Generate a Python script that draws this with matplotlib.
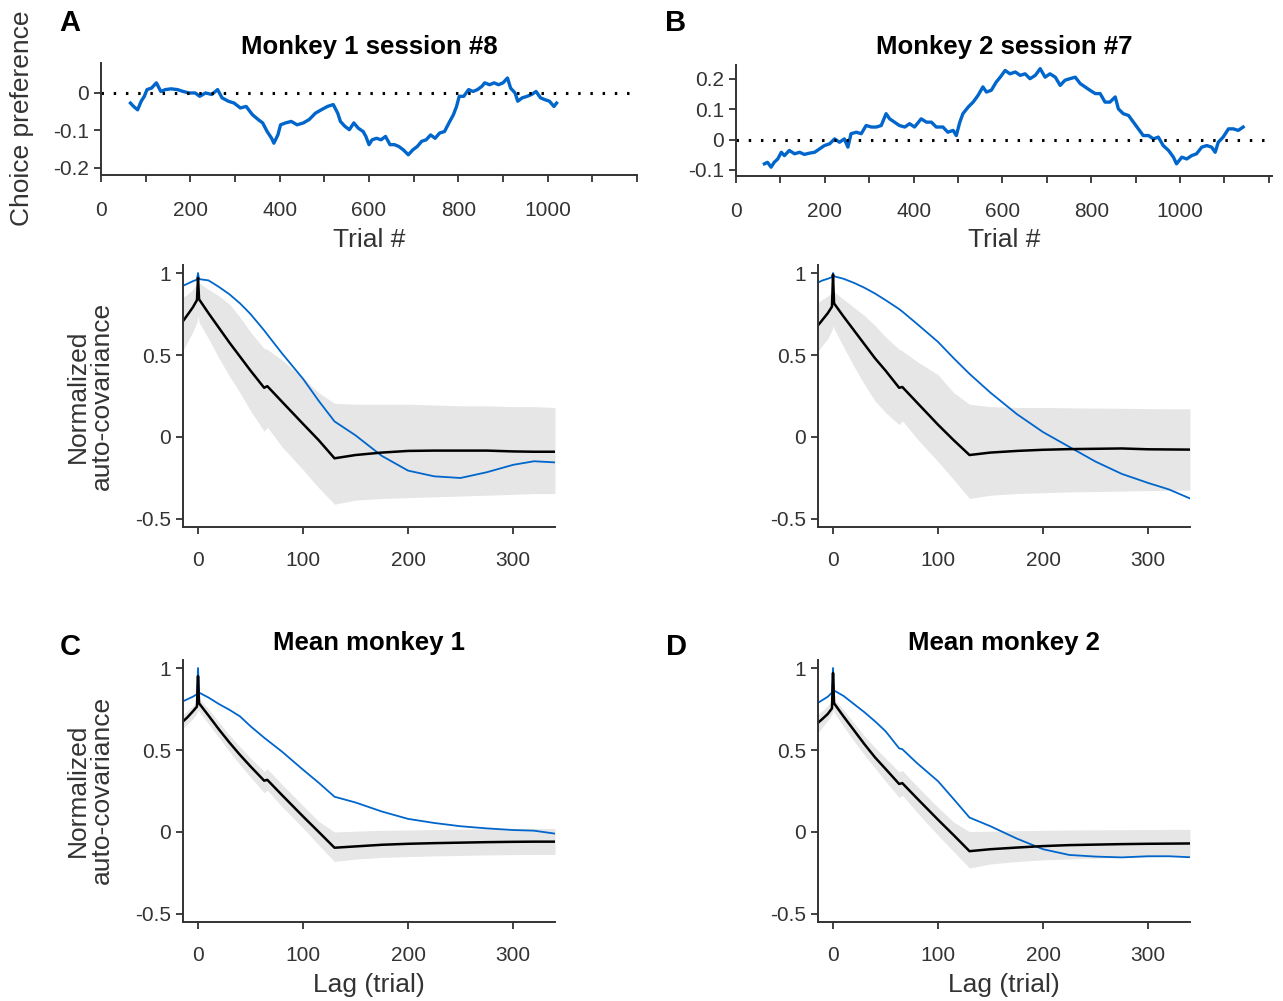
import matplotlib
matplotlib.use('Agg')
import matplotlib.pyplot as plt

plt.rcParams['font.family'] = ['Liberation Sans', 'DejaVu Sans']
plt.rcParams['axes.unicode_minus'] = False

BLUE = '#0066cc'
GREY_BAND = '#e6e6e6'
DARK = '#333333'

# --- top row: choice preference along the session ---
trials_m1 = [66, 73, 82, 90, 97, 103, 113, 124, 134, 144, 157, 171, 184, 197, 211, 221, 234, 248, 261,
             271, 285, 298, 312, 325, 339, 352, 362, 372, 382, 387, 396, 402, 413, 426, 439, 453, 466,
             480, 493, 507, 520, 530, 536, 546, 556, 566, 576, 587, 593, 600, 607, 617, 627, 637, 647,
             657, 667, 677, 688, 698, 708, 718, 728, 738, 748, 758, 769, 779, 789, 796, 802, 812, 823,
             833, 843, 853, 859, 870, 880, 890, 900, 910, 917, 927, 933, 943, 954, 964, 974, 984, 994,
             1004, 1014, 1020]
pref_m1 = [-0.027, -0.036, -0.045, -0.022, -0.009, 0.009, 0.013, 0.027, 0.004, 0.009, 0.011, 0.009,
           0.004, 0.0, 0.0, -0.009, 0.0, -0.004, 0.009, -0.013, -0.022, -0.027, -0.04, -0.036, -0.058,
           -0.071, -0.08, -0.103, -0.121, -0.134, -0.112, -0.085, -0.08, -0.076, -0.085, -0.08, -0.071,
           -0.054, -0.045, -0.036, -0.031, -0.054, -0.076, -0.089, -0.098, -0.08, -0.094, -0.103, -0.116,
           -0.138, -0.125, -0.121, -0.125, -0.116, -0.138, -0.138, -0.143, -0.152, -0.165, -0.152, -0.143,
           -0.129, -0.125, -0.112, -0.121, -0.107, -0.103, -0.08, -0.058, -0.036, -0.009, -0.009, 0.009,
           0.004, 0.009, 0.018, 0.027, 0.022, 0.027, 0.022, 0.027, 0.04, 0.013, 0.0, -0.022, -0.013,
           -0.009, -0.004, 0.004, -0.013, -0.018, -0.022, -0.036, -0.027]

trials_m2 = [64, 71, 79, 86, 94, 102, 109, 120, 132, 143, 154, 165, 177, 188, 199, 211, 222, 233, 244,
             252, 259, 271, 282, 293, 305, 316, 327, 338, 346, 357, 368, 380, 391, 402, 417, 429, 440,
             451, 466, 477, 489, 496, 504, 511, 523, 534, 545, 556, 564, 575, 586, 595, 606, 617, 629,
             640, 651, 662, 674, 685, 696, 707, 719, 730, 741, 752, 764, 775, 786, 797, 809, 820, 831,
             842, 854, 861, 872, 884, 895, 906, 917, 929, 940, 951, 962, 974, 985, 992, 1004, 1015, 1026,
             1037, 1049, 1060, 1071, 1079, 1086, 1097, 1109, 1120, 1131, 1142]
pref_m2 = [-0.08, -0.075, -0.091, -0.075, -0.064, -0.042, -0.053, -0.036, -0.047, -0.042, -0.049, -0.045,
           -0.042, -0.031, -0.02, -0.014, 0.002, -0.009, 0.002, -0.025, 0.019, 0.024, 0.019, 0.046, 0.041,
           0.041, 0.046, 0.085, 0.068, 0.057, 0.046, 0.041, 0.052, 0.041, 0.068, 0.057, 0.057, 0.041,
           0.041, 0.024, 0.03, 0.013, 0.057, 0.085, 0.107, 0.123, 0.145, 0.173, 0.156, 0.162, 0.189, 0.205,
           0.227, 0.216, 0.222, 0.211, 0.216, 0.2, 0.211, 0.233, 0.205, 0.216, 0.205, 0.178, 0.195, 0.2,
           0.205, 0.184, 0.173, 0.162, 0.151, 0.151, 0.123, 0.123, 0.14, 0.101, 0.085, 0.079, 0.057, 0.035,
           0.013, 0.013, 0.002, 0.008, -0.02, -0.036, -0.058, -0.08, -0.058, -0.064, -0.053, -0.047, -0.025,
           -0.02, -0.025, -0.042, -0.009, 0.008, 0.035, 0.035, 0.03, 0.041]

# --- auto-covariance panels (lags in trials) ---
lags = [-15, -10, -5, -1, 0, 1, 10, 20, 30, 40, 50, 63, 66, 80, 100, 115, 130, 150, 175, 200, 225,
        250, 275, 300, 320, 340]

# single-session panels
sess1_black = [0.70, 0.745, 0.79, 0.835, 0.97, 0.84, 0.755, 0.665, 0.575, 0.49, 0.405, 0.30, 0.31, 0.215,
               0.08, -0.02, -0.13, -0.11, -0.095, -0.085, -0.083, -0.083, -0.083, -0.088, -0.09, -0.09]
sess1_upper = [0.85, 0.87, 0.90, 0.94, 0.96, 0.94, 0.90, 0.86, 0.81, 0.73, 0.64, 0.54, 0.535, 0.47,
               0.36, 0.27, 0.205, 0.20, 0.20, 0.20, 0.195, 0.19, 0.19, 0.185, 0.185, 0.18]
sess1_lower = [0.52, 0.58, 0.64, 0.70, 0.74, 0.70, 0.60, 0.48, 0.37, 0.27, 0.16, 0.035, 0.06, -0.06,
               -0.20, -0.31, -0.41, -0.385, -0.375, -0.37, -0.365, -0.36, -0.355, -0.35, -0.345, -0.345]
sess1_blue = [0.92, 0.935, 0.95, 0.96, 1.0, 0.963, 0.955, 0.915, 0.87, 0.815, 0.75, 0.65, 0.625, 0.51,
              0.355, 0.22, 0.095, 0.01, -0.115, -0.205, -0.24, -0.25, -0.215, -0.17, -0.148, -0.155]

sess2_black = [0.675, 0.715, 0.755, 0.795, 0.99, 0.815, 0.735, 0.65, 0.565, 0.48, 0.405, 0.30, 0.305,
               0.21, 0.075, -0.02, -0.11, -0.095, -0.085, -0.078, -0.074, -0.072, -0.07, -0.075, -0.076,
               -0.077]
sess2_upper = [0.815, 0.84, 0.86, 0.88, 0.89, 0.885, 0.84, 0.79, 0.74, 0.68, 0.61, 0.535, 0.525, 0.46,
               0.38, 0.27, 0.20, 0.185, 0.18, 0.18, 0.178, 0.176, 0.175, 0.173, 0.172, 0.172]
sess2_lower = [0.517, 0.56, 0.60, 0.65, 0.68, 0.66, 0.55, 0.43, 0.32, 0.22, 0.15, 0.075, 0.10, -0.01,
               -0.15, -0.26, -0.375, -0.355, -0.345, -0.34, -0.335, -0.333, -0.33, -0.327, -0.325, -0.324]
sess2_blue = [0.94, 0.955, 0.965, 0.975, 1.0, 0.98, 0.965, 0.94, 0.91, 0.875, 0.835, 0.78, 0.765, 0.69,
              0.58, 0.48, 0.385, 0.27, 0.14, 0.03, -0.06, -0.15, -0.225, -0.28, -0.32, -0.375]

# mean panels (C and D)
mean1_black = [0.67, 0.70, 0.735, 0.765, 0.95, 0.785, 0.71, 0.625, 0.545, 0.47, 0.40, 0.313, 0.318,
               0.225, 0.095, 0.0, -0.096, -0.088, -0.078, -0.072, -0.068, -0.065, -0.062, -0.06, -0.059,
               -0.059]
mean1_upper = [0.71, 0.74, 0.77, 0.80, 0.82, 0.815, 0.75, 0.67, 0.59, 0.52, 0.45, 0.37, 0.385, 0.29,
               0.16, 0.065, 0.0, 0.005, 0.01, 0.012, 0.015, 0.017, 0.02, 0.021, 0.022, 0.022]
mean1_lower = [0.63, 0.66, 0.69, 0.725, 0.744, 0.735, 0.66, 0.575, 0.49, 0.41, 0.335, 0.24, 0.255, 0.155,
               0.025, -0.08, -0.18, -0.165, -0.155, -0.15, -0.146, -0.143, -0.14, -0.138, -0.137, -0.137]
mean1_blue = [0.795, 0.81, 0.825, 0.84, 1.0, 0.85, 0.82, 0.78, 0.745, 0.705, 0.645, 0.575, 0.56, 0.49,
              0.38, 0.30, 0.215, 0.18, 0.125, 0.08, 0.055, 0.035, 0.022, 0.012, 0.008, -0.01]

mean2_black = [0.662, 0.69, 0.72, 0.754, 0.97, 0.785, 0.705, 0.62, 0.535, 0.455, 0.385, 0.293, 0.298,
               0.205, 0.075, -0.02, -0.117, -0.105, -0.095, -0.086, -0.08, -0.077, -0.074, -0.072, -0.071,
               -0.07]
mean2_upper = [0.713, 0.74, 0.77, 0.80, 0.815, 0.81, 0.745, 0.665, 0.585, 0.515, 0.45, 0.365, 0.375, 0.28,
               0.15, 0.06, 0.002, 0.005, 0.008, 0.01, 0.012, 0.013, 0.014, 0.015, 0.016, 0.016]
mean2_lower = [0.60, 0.64, 0.68, 0.72, 0.744, 0.73, 0.645, 0.555, 0.47, 0.39, 0.31, 0.21, 0.225, 0.12,
               -0.02, -0.12, -0.22, -0.195, -0.18, -0.17, -0.165, -0.16, -0.155, -0.152, -0.15, -0.148]
mean2_blue = [0.785, 0.805, 0.825, 0.85, 1.0, 0.863, 0.83, 0.78, 0.73, 0.675, 0.615, 0.51, 0.505, 0.42,
              0.31, 0.20, 0.088, 0.035, -0.04, -0.105, -0.14, -0.15, -0.155, -0.148, -0.148, -0.154]


fig = plt.figure(figsize=(12.83, 10.01), dpi=100)
W, H = 1283.0, 1001.0


def px_axes(left, top, right, bottom):
    return fig.add_axes([left / W, 1 - bottom / H, (right - left) / W, (bottom - top) / H])


def style(ax):
    for s in ['top', 'right']:
        ax.spines[s].set_visible(False)
    for s in ['left', 'bottom']:
        ax.spines[s].set_color(DARK)
        ax.spines[s].set_linewidth(1.4)
    ax.tick_params(direction='out', length=5, width=1.3, color=DARK, labelcolor=DARK, labelsize=15)


def fmt(vals):
    return ['%g' % v for v in vals]


# top panels
axA = px_axes(101, 63, 637, 175)
axB = px_axes(736, 65, 1272, 176)

axA.plot(trials_m1, pref_m1, color=BLUE, lw=2.4)
axA.axhline(0, color='black', lw=2.2, ls=(0, (0.8, 3.2)))
axA.set_xlim(0, 1083)
axA.set_ylim(-0.219, 0.08)
axA.set_yticks([-0.2, -0.1, 0])
axA.set_yticklabels(fmt([-0.2, -0.1, 0]))

axB.plot(trials_m2, pref_m2, color=BLUE, lw=2.4)
axB.axhline(0, color='black', lw=2.2, ls=(0, (0.8, 3.2)))
axB.set_xlim(0, 1207)
axB.set_ylim(-0.12, 0.245)
axB.set_yticks([-0.1, 0, 0.1, 0.2])
axB.set_yticklabels(fmt([-0.1, 0, 0.1, 0.2]))

for ax in (axA, axB):
    style(ax)
    ax.set_xticks(range(0, 1201, 100))
    ax.set_xticklabels([str(t) if (t % 200 == 0 and t <= 1000) else '' for t in range(0, 1201, 100)])
    ax.tick_params(axis='x', pad=14)


# auto-covariance panels
def acov(ax, black, upper, lower, blue):
    ax.fill_between(lags, lower, upper, color=GREY_BAND, lw=0)
    ax.plot(lags, blue, color=BLUE, lw=1.3)
    ax.plot(lags, black, color='black', lw=1.8)
    ax.set_xlim(-14.3, 340)
    ax.set_ylim(-0.549, 1.049)
    ax.set_xticks([0, 100, 200, 300])
    ax.set_yticks([-0.5, 0, 0.5, 1])
    ax.set_yticklabels(fmt([-0.5, 0, 0.5, 1]))
    style(ax)
    ax.tick_params(axis='x', pad=12)


acov(px_axes(183, 265, 555, 527), sess1_black, sess1_upper, sess1_lower, sess1_blue)
acov(px_axes(818, 265, 1190, 527), sess2_black, sess2_upper, sess2_lower, sess2_blue)
acov(px_axes(183, 660, 555, 922), mean1_black, mean1_upper, mean1_lower, mean1_blue)
acov(px_axes(818, 660, 1190, 922), mean2_black, mean2_upper, mean2_lower, mean2_blue)


# texts
def ftext(x, y, s, **kw):
    fig.text(x / W, 1 - y / H, s, ha='center', va='center', **kw)


for (x, y, s) in [(70, 23, 'A'), (676, 23, 'B'), (70, 647, 'C'), (676, 647, 'D')]:
    ftext(x, y, s, fontsize=21, fontweight='bold')

ftext(369, 47, 'Monkey 1 session #8', fontsize=18.5, fontweight='bold')
ftext(1004, 47, 'Monkey 2 session #7', fontsize=18.5, fontweight='bold')
ftext(369, 643, 'Mean monkey 1', fontsize=18.5, fontweight='bold')
ftext(1004, 643, 'Mean monkey 2', fontsize=18.5, fontweight='bold')

ftext(369, 240, 'Trial #', fontsize=19, color=DARK)
ftext(1004, 240, 'Trial #', fontsize=19, color=DARK)
ftext(369, 985, 'Lag (trial)', fontsize=19, color=DARK)
ftext(1004, 985, 'Lag (trial)', fontsize=19, color=DARK)

ftext(22, 118, 'Choice preference', fontsize=19, color=DARK, rotation=90)
ftext(90, 396, 'Normalized\nauto-covariance', fontsize=19, color=DARK, rotation=90, linespacing=1.0)
ftext(90, 790, 'Normalized\nauto-covariance', fontsize=19, color=DARK, rotation=90, linespacing=1.0)

fig.savefig('out.png', dpi=100)
